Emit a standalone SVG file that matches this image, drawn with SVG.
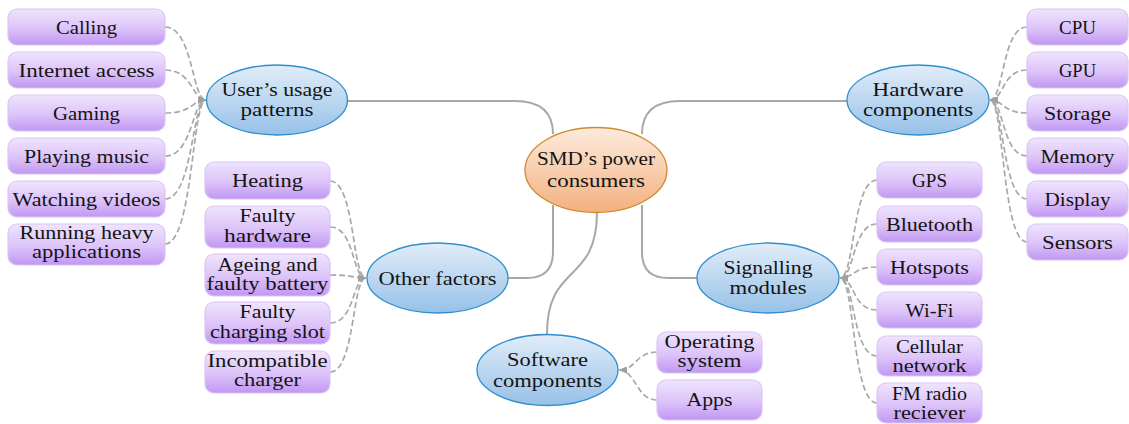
<svg xmlns="http://www.w3.org/2000/svg" width="1129" height="424" viewBox="0 0 1129 424">
  <style>
    .t { font-family: "Liberation Serif", "Times New Roman", serif; font-size: 19px; fill: #141414; text-anchor: middle; }
    .box { fill: url(#boxGrad); stroke: #dcc4f6; stroke-width: 1.2; }
    .oval { fill: url(#blueGrad); stroke: #2f8fcc; stroke-width: 1.3; }
    .core { fill: url(#orangeGrad); stroke: #d08a2a; stroke-width: 1.3; }
    .link { fill: none; stroke: #a8a8a8; stroke-width: 2; }
    .dash { fill: none; stroke: #a8a8a8; stroke-width: 1.7; stroke-dasharray: 6 3; marker-end: url(#arr); }
  </style>
  <defs>
    <linearGradient id="boxGrad" x1="0" y1="0" x2="0" y2="1">
      <stop offset="0" stop-color="#efe4fd"/>
      <stop offset="0.55" stop-color="#dcc3f9"/>
      <stop offset="1" stop-color="#c197f2"/>
    </linearGradient>
    <linearGradient id="blueGrad" x1="0" y1="0" x2="0" y2="1">
      <stop offset="0" stop-color="#e1edf9"/>
      <stop offset="1" stop-color="#97c1e8"/>
    </linearGradient>
    <linearGradient id="orangeGrad" x1="0" y1="0" x2="0" y2="1">
      <stop offset="0" stop-color="#fdebdd"/>
      <stop offset="1" stop-color="#f3b07f"/>
    </linearGradient>
    <marker id="arr" viewBox="0 0 8 7" refX="8" refY="3.5" markerWidth="8" markerHeight="7" markerUnits="userSpaceOnUse" orient="auto">
      <path d="M0,0 L8,3.5 L0,7 z" fill="#a0a0a0"/>
    </marker>
  </defs>

  <!-- connectors -->
  <g id="connectors">
    <!-- trunk lines from the central node -->
    <path class="link" d="M348,101 L515,101 Q553,101 553,134"/>
    <path class="link" d="M642,134 Q642,101 680,101 L847,101"/>
    <path class="link" d="M553,205 L553,252 Q553,278 527,278 L508,278"/>
    <path class="link" d="M642,205 L642,252 Q642,278 668,278 L697,278"/>
    <path class="link" d="M597,212 C597,285 547,262 547,334"/>

    <!-- user's usage patterns -->
    <path class="dash" d="M165,27 C193,27 192,100 206,100"/>
    <path class="dash" d="M165,70 C193,70 192,100 206,100"/>
    <path class="dash" d="M165,113 C193,113 192,100 206,100"/>
    <path class="dash" d="M165,156 C193,156 192,100 206,100"/>
    <path class="dash" d="M165,199 C193,199 192,100 206,100"/>
    <path class="dash" d="M165,244 C193,244 192,100 206,100"/>

    <!-- other factors -->
    <path class="dash" d="M330,181 C355,181 352,278 366,278"/>
    <path class="dash" d="M330,227 C355,227 352,278 366,278"/>
    <path class="dash" d="M330,275 C355,275 352,278 366,278"/>
    <path class="dash" d="M330,323 C355,323 352,278 366,278"/>
    <path class="dash" d="M330,372 C355,372 352,278 366,278"/>

    <!-- software components -->
    <path class="dash" d="M657,352 C636,352 636,370 619,370"/>
    <path class="dash" d="M657,400 C636,400 636,370 619,370"/>

    <!-- signalling modules -->
    <path class="dash" d="M877,180 C852,180 855,278 840,278"/>
    <path class="dash" d="M877,224 C852,224 855,278 840,278"/>
    <path class="dash" d="M877,267 C852,267 855,278 840,278"/>
    <path class="dash" d="M877,310 C852,310 855,278 840,278"/>
    <path class="dash" d="M877,356 C852,356 855,278 840,278"/>
    <path class="dash" d="M877,403 C852,403 855,278 840,278"/>

    <!-- hardware components -->
    <path class="dash" d="M1027,27 C1002,27 1004,100 990,100"/>
    <path class="dash" d="M1027,70 C1002,70 1004,100 990,100"/>
    <path class="dash" d="M1027,113 C1002,113 1004,100 990,100"/>
    <path class="dash" d="M1027,156 C1002,156 1004,100 990,100"/>
    <path class="dash" d="M1027,199 C1002,199 1004,100 990,100"/>
    <path class="dash" d="M1027,242 C1002,242 1004,100 990,100"/>
  </g>

  <!-- central node -->
  <g id="smd-power">
    <ellipse class="core" cx="596" cy="170" rx="71" ry="42.5"/>
    <text class="t" x="596" y="165" textLength="118" lengthAdjust="spacingAndGlyphs">SMD’s power</text>
    <text class="t" x="596" y="187" textLength="98" lengthAdjust="spacingAndGlyphs">consumers</text>
  </g>

  <!-- category nodes -->
  <g id="users-usage">
    <ellipse class="oval" cx="277" cy="100" rx="70.5" ry="35"/>
    <text class="t" x="277" y="96" textLength="111" lengthAdjust="spacingAndGlyphs">User’s usage</text>
    <text class="t" x="277" y="116" textLength="73" lengthAdjust="spacingAndGlyphs">patterns</text>
  </g>
  <g id="hardware">
    <ellipse class="oval" cx="918" cy="100" rx="71" ry="35"/>
    <text class="t" x="918" y="96" textLength="91" lengthAdjust="spacingAndGlyphs">Hardware</text>
    <text class="t" x="918" y="116" textLength="110" lengthAdjust="spacingAndGlyphs">components</text>
  </g>
  <g id="other-factors">
    <ellipse class="oval" cx="437.5" cy="278" rx="70.5" ry="35"/>
    <text class="t" x="437.5" y="285" textLength="118" lengthAdjust="spacingAndGlyphs">Other factors</text>
  </g>
  <g id="signalling">
    <ellipse class="oval" cx="768" cy="278" rx="71" ry="35"/>
    <text class="t" x="768" y="274" textLength="89" lengthAdjust="spacingAndGlyphs">Signalling</text>
    <text class="t" x="768" y="294" textLength="77" lengthAdjust="spacingAndGlyphs">modules</text>
  </g>
  <g id="software">
    <ellipse class="oval" cx="547.5" cy="370" rx="70.5" ry="35.5"/>
    <text class="t" x="547.5" y="366" textLength="81" lengthAdjust="spacingAndGlyphs">Software</text>
    <text class="t" x="547.5" y="387" textLength="109" lengthAdjust="spacingAndGlyphs">components</text>
  </g>

  <!-- usage pattern leaves -->
  <g id="calling">
    <rect class="box" x="8" y="9" width="157" height="36" rx="9"/>
    <text class="t" x="86.5" y="33.5" textLength="61" lengthAdjust="spacingAndGlyphs">Calling</text>
  </g>
  <g id="internet-access">
    <rect class="box" x="8" y="52" width="157" height="36" rx="9"/>
    <text class="t" x="86.5" y="76.5" textLength="136" lengthAdjust="spacingAndGlyphs">Internet access</text>
  </g>
  <g id="gaming">
    <rect class="box" x="8" y="95" width="157" height="36" rx="9"/>
    <text class="t" x="86.5" y="119.5" textLength="67" lengthAdjust="spacingAndGlyphs">Gaming</text>
  </g>
  <g id="playing-music">
    <rect class="box" x="8" y="138" width="157" height="36" rx="9"/>
    <text class="t" x="86.5" y="162.5" textLength="125" lengthAdjust="spacingAndGlyphs">Playing music</text>
  </g>
  <g id="watching-videos">
    <rect class="box" x="8" y="181" width="157" height="36" rx="9"/>
    <text class="t" x="86.5" y="205.5" textLength="148" lengthAdjust="spacingAndGlyphs">Watching videos</text>
  </g>
  <g id="heavy-apps">
    <rect class="box" x="8" y="224" width="157" height="41" rx="9"/>
    <text class="t" x="86.5" y="239" textLength="134" lengthAdjust="spacingAndGlyphs">Running heavy</text>
    <text class="t" x="86.5" y="258" textLength="109" lengthAdjust="spacingAndGlyphs">applications</text>
  </g>

  <!-- other factor leaves -->
  <g id="heating">
    <rect class="box" x="205" y="162" width="125" height="37" rx="9"/>
    <text class="t" x="267.5" y="187" textLength="71" lengthAdjust="spacingAndGlyphs">Heating</text>
  </g>
  <g id="faulty-hardware">
    <rect class="box" x="205" y="206" width="125" height="42" rx="9"/>
    <text class="t" x="267.5" y="222" textLength="56" lengthAdjust="spacingAndGlyphs">Faulty</text>
    <text class="t" x="267.5" y="242" textLength="87" lengthAdjust="spacingAndGlyphs">hardware</text>
  </g>
  <g id="battery">
    <rect class="box" x="205" y="254" width="125" height="42" rx="9"/>
    <text class="t" x="267.5" y="271" textLength="100" lengthAdjust="spacingAndGlyphs">Ageing and</text>
    <text class="t" x="267.5" y="290" textLength="122" lengthAdjust="spacingAndGlyphs">faulty battery</text>
  </g>
  <g id="charging-slot">
    <rect class="box" x="205" y="302" width="125" height="42" rx="9"/>
    <text class="t" x="267.5" y="318" textLength="56" lengthAdjust="spacingAndGlyphs">Faulty</text>
    <text class="t" x="267.5" y="338" textLength="115" lengthAdjust="spacingAndGlyphs">charging slot</text>
  </g>
  <g id="charger">
    <rect class="box" x="205" y="351" width="125" height="42" rx="9"/>
    <text class="t" x="267.5" y="367" textLength="120" lengthAdjust="spacingAndGlyphs">Incompatible</text>
    <text class="t" x="267.5" y="386" textLength="67" lengthAdjust="spacingAndGlyphs">charger</text>
  </g>

  <!-- software leaves -->
  <g id="operating-system">
    <rect class="box" x="657" y="332" width="105" height="41" rx="9"/>
    <text class="t" x="709.5" y="348" textLength="90" lengthAdjust="spacingAndGlyphs">Operating</text>
    <text class="t" x="709.5" y="367" textLength="64" lengthAdjust="spacingAndGlyphs">system</text>
  </g>
  <g id="apps">
    <rect class="box" x="657" y="380" width="105" height="40" rx="9"/>
    <text class="t" x="709.5" y="406" textLength="46" lengthAdjust="spacingAndGlyphs">Apps</text>
  </g>

  <!-- signalling leaves -->
  <g id="gps">
    <rect class="box" x="877" y="162" width="105" height="36" rx="9"/>
    <text class="t" x="929.5" y="187" textLength="35" lengthAdjust="spacingAndGlyphs">GPS</text>
  </g>
  <g id="bluetooth">
    <rect class="box" x="877" y="206" width="105" height="36" rx="9"/>
    <text class="t" x="929.5" y="231" textLength="87" lengthAdjust="spacingAndGlyphs">Bluetooth</text>
  </g>
  <g id="hotspots">
    <rect class="box" x="877" y="249" width="105" height="36" rx="9"/>
    <text class="t" x="929.5" y="274" textLength="79" lengthAdjust="spacingAndGlyphs">Hotspots</text>
  </g>
  <g id="wifi">
    <rect class="box" x="877" y="292" width="105" height="36" rx="9"/>
    <text class="t" x="929.5" y="317" textLength="48" lengthAdjust="spacingAndGlyphs">Wi-Fi</text>
  </g>
  <g id="cellular">
    <rect class="box" x="877" y="336" width="105" height="40" rx="9"/>
    <text class="t" x="929.5" y="353" textLength="67" lengthAdjust="spacingAndGlyphs">Cellular</text>
    <text class="t" x="929.5" y="372" textLength="74" lengthAdjust="spacingAndGlyphs">network</text>
  </g>
  <g id="fm-radio">
    <rect class="box" x="877" y="383" width="105" height="40" rx="9"/>
    <text class="t" x="929.5" y="400" textLength="75" lengthAdjust="spacingAndGlyphs">FM radio</text>
    <text class="t" x="929.5" y="419" textLength="72" lengthAdjust="spacingAndGlyphs">reciever</text>
  </g>

  <!-- hardware leaves -->
  <g id="cpu">
    <rect class="box" x="1027" y="9" width="101" height="36" rx="9"/>
    <text class="t" x="1077.5" y="33.5" textLength="37" lengthAdjust="spacingAndGlyphs">CPU</text>
  </g>
  <g id="gpu">
    <rect class="box" x="1027" y="52" width="101" height="36" rx="9"/>
    <text class="t" x="1077.5" y="76.5" textLength="37" lengthAdjust="spacingAndGlyphs">GPU</text>
  </g>
  <g id="storage">
    <rect class="box" x="1027" y="95" width="101" height="36" rx="9"/>
    <text class="t" x="1077.5" y="119.5" textLength="67" lengthAdjust="spacingAndGlyphs">Storage</text>
  </g>
  <g id="memory">
    <rect class="box" x="1027" y="138" width="101" height="36" rx="9"/>
    <text class="t" x="1077.5" y="162.5" textLength="74" lengthAdjust="spacingAndGlyphs">Memory</text>
  </g>
  <g id="display">
    <rect class="box" x="1027" y="181" width="101" height="36" rx="9"/>
    <text class="t" x="1077.5" y="205.5" textLength="66" lengthAdjust="spacingAndGlyphs">Display</text>
  </g>
  <g id="sensors">
    <rect class="box" x="1027" y="224" width="101" height="36" rx="9"/>
    <text class="t" x="1077.5" y="248.5" textLength="71" lengthAdjust="spacingAndGlyphs">Sensors</text>
  </g>
</svg>
